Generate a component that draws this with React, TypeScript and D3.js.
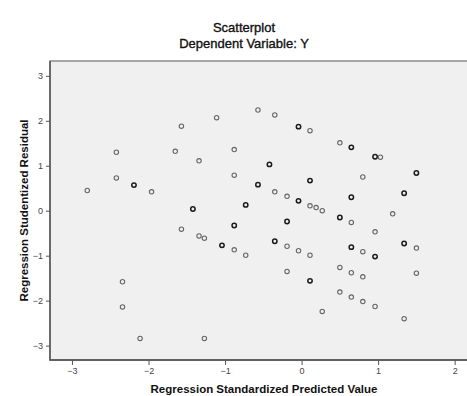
import React, { useRef, useEffect } from "react";
import * as d3 from "d3";

// regression standardized predicted value (x) and studentized residual (y)
// cases that sit on top of each other are listed twice
const predicted = [
  -2.8, -2.42, -2.42, -2.19, -2.19, -1.96, -1.57, -1.65, -1.34, -1.11,
  -0.88, -0.88, -1.42, -1.42, -1.57, -1.34, -1.27, -0.88, -0.88, -1.04,
  -1.04, -0.88, -2.34, -2.34, -2.11, -1.27, -0.57, -0.35, -0.04, -0.04,
  0.11, -0.42, -0.42, -0.57, -0.57, 0.11, 0.11, 0.5, 0.65, 0.65,
  0.96, 0.96, 1.03, 0.8, 1.5, 1.5, 1.34, 1.34, 1.19, 0.65,
  0.65, -0.35, -0.19, -0.04, -0.04, 0.11, 0.19, 0.27, -0.73, -0.73,
  -0.19, -0.19, 0.5, 0.5, 0.65, 0.96, -0.35, -0.35, -0.19, -0.04,
  0.11, -0.73, 0.65, 0.65, 0.8, 0.96, 0.96, 1.34, 1.34, 1.5,
  -0.19, 0.11, 0.11, 0.5, 0.65, 0.8, 1.5, 0.5, 0.65, 0.8,
  0.96, 0.27, 1.34,
];
const residual = [
  0.45, 1.3, 0.73, 0.57, 0.57, 0.42, 1.88, 1.32, 1.11, 2.07,
  1.36, 0.79, 0.04, 0.04, -0.41, -0.56, -0.61, -0.33, -0.33, -0.77,
  -0.77, -0.87, -1.58, -2.14, -2.84, -2.84, 2.24, 2.13, 1.87, 1.87,
  1.78, 1.03, 1.03, 0.58, 0.58, 0.67, 0.67, 1.51, 1.41, 1.41,
  1.2, 1.2, 1.19, 0.75, 0.84, 0.84, 0.39, 0.39, -0.07, 0.3,
  0.3, 0.42, 0.32, 0.22, 0.22, 0.11, 0.07, 0.0, 0.13, 0.13,
  -0.24, -0.24, -0.15, -0.15, -0.26, -0.47, -0.68, -0.68, -0.79, -0.89,
  -0.99, -0.99, -0.81, -0.81, -0.91, -1.02, -1.02, -0.73, -0.73, -0.83,
  -1.35, -1.56, -1.56, -1.26, -1.38, -1.47, -1.39, -1.81, -1.92, -2.02,
  -2.13, -2.24, -2.4,
];
const xTicks = [-3, -2, -1, 0, 1, 2];
const yTicks = [-3, -2, -1, 0, 1, 2, 3];

const title = "Scatterplot";
const subtitle = "Dependent Variable: Y";
const xTitle = "Regression Standardized Predicted Value";
const yTitle = "Regression Studentized Residual";

export default function App() {
  const ref = useRef<SVGSVGElement>(null);

  useEffect(() => {
    if (!ref.current) return;
    const svg = d3.select(ref.current);
    svg.selectAll("*").remove();

    const w = 467;
    const h = 396;
    const plot = { left: 50, right: 478, top: 61, bottom: 360 };
    const font = "'Liberation Sans', Arial, sans-serif";

    const x = d3.scaleLinear().domain([-3.287, 2.305]).range([plot.left, plot.right]);
    const y = d3.scaleLinear().domain([-3.32, 3.33]).range([plot.bottom, plot.top]);

    svg.append("rect").attr("width", w).attr("height", h).attr("fill", "#fff");

    // plot area
    svg.append("rect")
      .attr("x", plot.left)
      .attr("y", plot.top)
      .attr("width", plot.right - plot.left)
      .attr("height", plot.bottom - plot.top)
      .attr("fill", "#f0f0f0")
      .attr("stroke", "#8c8c8c")
      .attr("stroke-width", 1.5);

    // left + bottom frame darker
    svg.append("path")
      .attr("d", `M${plot.left},${plot.top}V${plot.bottom}H${plot.right}`)
      .attr("fill", "none")
      .attr("stroke", "#4a4a4a")
      .attr("stroke-width", 1.3);

    const xAxis = svg.append("g")
      .attr("transform", `translate(0,${plot.bottom})`)
      .call(d3.axisBottom(x).tickValues(xTicks).tickSize(5).tickPadding(3).tickFormat(d3.format("d")));
    const yAxis = svg.append("g")
      .attr("transform", `translate(${plot.left},0)`)
      .call(d3.axisLeft(y).tickValues(yTicks).tickSize(4).tickPadding(3).tickFormat(d3.format("d")));

    [xAxis, yAxis].forEach(g => {
      g.select(".domain").remove();
      g.selectAll("line").attr("stroke", "#555");
      g.selectAll("text")
        .attr("fill", "#444")
        .style("font-family", font)
        .style("font-size", "9px");
    });

    // points, overlapping cases drawn darker
    const pts = predicted.map((p, i) => ({ p, r: residual[i] }));
    const counts = d3.rollup(pts, v => v.length, d => `${d.p},${d.r}`);
    const uniq = Array.from(counts, ([k, n]) => {
      const [p, r] = k.split(",").map(Number);
      return { p, r, n };
    });

    svg.append("g")
      .selectAll("circle")
      .data(uniq)
      .join("circle")
      .attr("cx", d => x(d.p))
      .attr("cy", d => y(d.r))
      .attr("r", 2.2)
      .attr("fill", "none")
      .attr("stroke", d => (d.n > 1 ? "#1a1a1a" : "#666"))
      .attr("stroke-width", d => (d.n > 1 ? 1.5 : 1.1));

    // titles, medium weight
    [[title, 31.5], [subtitle, 48]].forEach(([t, ty]) => {
      svg.append("text")
        .attr("x", 244)
        .attr("y", ty as number)
        .attr("text-anchor", "middle")
        .style("font-family", font)
        .style("font-size", "13px")
        .attr("fill", "#111")
        .attr("stroke", "#111")
        .attr("stroke-width", 0.35)
        .text(t as string);
    });

    svg.append("text")
      .attr("x", (plot.left + plot.right) / 2)
      .attr("y", 393)
      .attr("text-anchor", "middle")
      .style("font-family", font)
      .style("font-size", "11.5px")
      .style("font-weight", "bold")
      .attr("fill", "#111")
      .text(xTitle);

    svg.append("text")
      .attr("transform", `translate(28,${(plot.top + plot.bottom) / 2}) rotate(-90)`)
      .attr("text-anchor", "middle")
      .style("font-family", font)
      .style("font-size", "11.5px")
      .style("font-weight", "bold")
      .attr("fill", "#111")
      .text(yTitle);
  }, []);

  return (
    <svg
      ref={ref}
      width={467}
      height={396}
      style={{ position: "absolute", left: 0, top: 0, display: "block" }}
    />
  );
}
